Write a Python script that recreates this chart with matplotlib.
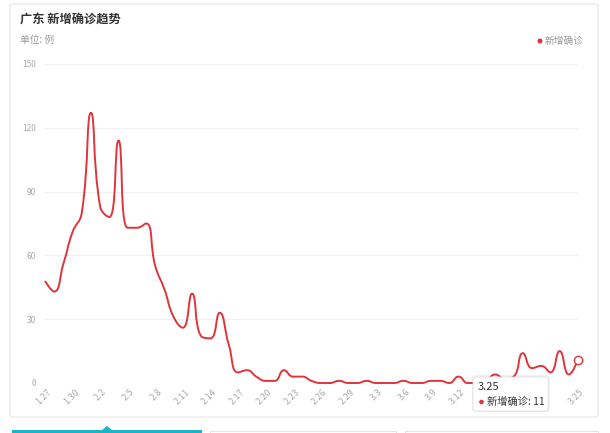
import numpy as np
import matplotlib.pyplot as plt
from matplotlib.path import Path
from matplotlib.patches import PathPatch, FancyBboxPatch, Rectangle, Polygon, Ellipse
from matplotlib.transforms import ScaledTranslation

plt.rcParams['font.family'] = ['Noto Sans CJK SC', 'DejaVu Sans']

dates = ['1.27', '1.28', '1.29', '1.30', '1.31',
         '2.1', '2.2', '2.3', '2.4', '2.5', '2.6', '2.7', '2.8', '2.9', '2.10',
         '2.11', '2.12', '2.13', '2.14', '2.15', '2.16', '2.17', '2.18', '2.19',
         '2.20', '2.21', '2.22', '2.23', '2.24', '2.25', '2.26', '2.27', '2.28',
         '2.29',
         '3.1', '3.2', '3.3', '3.4', '3.5', '3.6', '3.7', '3.8', '3.9', '3.10',
         '3.11', '3.12', '3.13', '3.14', '3.15', '3.16', '3.17', '3.18', '3.19',
         '3.20', '3.21', '3.22', '3.23', '3.24', '3.25']
new_cases = [48, 43, 56, 71, 80, 127, 83, 78, 114, 73, 73, 75, 55, 44, 31,
             26, 42, 22, 21, 33, 18, 5, 6, 3, 1, 1, 6, 3, 3, 1, 0, 0, 1, 0,
             0, 1, 0, 0, 0, 1, 0, 0, 1, 1, 0, 3, 0, 0, 1, 4, 2, 3, 14, 7, 8, 5,
             15, 4, 11]
shown_ticks = list(range(0, 57, 3)) + [58]
y_ticks = [0, 30, 60, 90, 120, 150]

red = '#de353c'
W, H = 610, 433


def fx(x):
    return x / W


def fy(y):
    return 1 - y / H


# ECharts style smoothing (bezier with clamped control points)
def smooth_path(xs, ys, sx, sy, smooth=0.5):
    px = [x * sx for x in xs]
    py = [y * sy for y in ys]
    n = len(px)
    verts = [(px[0], py[0])]
    codes = [Path.MOVETO]
    c0x, c0y = px[0], py[0]
    for i in range(1, n):
        x, y = px[i], py[i]
        ax_, ay_ = px[i - 1], py[i - 1]
        if i == n - 1:
            c1x, c1y = x, y
            nx0, ny0 = x, y
        else:
            bx, by = px[i + 1], py[i + 1]
            vx, vy = bx - ax_, by - ay_
            lp = np.hypot(x - ax_, y - ay_)
            ln = np.hypot(bx - x, by - y)
            r = ln / (ln + lp)
            nx0 = x + vx * smooth * r
            ny0 = y + vy * smooth * r
            nx0 = max(min(nx0, max(bx, x)), min(bx, x))
            ny0 = max(min(ny0, max(by, y)), min(by, y))
            vx, vy = nx0 - x, ny0 - y
            c1x = x - vx * lp / ln
            c1y = y - vy * lp / ln
            c1x = max(min(c1x, max(ax_, x)), min(ax_, x))
            c1y = max(min(c1y, max(ay_, y)), min(ay_, y))
            vx, vy = x - c1x, y - c1y
            nx0 = x + vx * ln / lp
            ny0 = y + vy * ln / lp
        verts += [(c0x, c0y), (c1x, c1y), (x, y)]
        codes += [Path.CURVE4] * 3
        c0x, c0y = nx0, ny0
    verts = [(vx / sx, vy / sy) for vx, vy in verts]
    return Path(verts, codes)


def dot(x, y, r, z=1):
    fig.patches.append(Ellipse((fx(x), fy(y)), 2 * r / W, 2 * r / H,
                               transform=fig.transFigure, fc=red, ec='none', zorder=z))


fig = plt.figure(figsize=(6.1, 4.33), dpi=100)

# card
card = FancyBboxPatch((fx(10), fy(417)), 588 / W, 413 / H,
                      boxstyle='round,pad=0,rounding_size=0.006',
                      transform=fig.transFigure, fc='white', ec='#e6e6e6', lw=0.8,
                      zorder=-5)
fig.patches.append(card)

# bottom tabs
fig.patches.append(Rectangle((fx(12), 0), 190 / W, 3 / H, transform=fig.transFigure,
                             fc='#1bb5c7', ec='none', zorder=-4))
fig.patches.append(Polygon([[fx(102), fy(430)], [fx(107), fy(426)], [fx(112), fy(430)]],
                           closed=True, transform=fig.transFigure, fc='#1bb5c7',
                           ec='none', zorder=-4))
for x0, x1 in [(210, 396), (405, 598)]:
    fig.patches.append(Rectangle((fx(x0), fy(440)), (x1 - x0) / W, 9 / H,
                                 transform=fig.transFigure, fc='white', ec='#e3e3e3',
                                 lw=0.8, zorder=-4))

fig.text(fx(20), fy(20), '广东 新增确诊趋势', fontsize=8.8, fontweight='bold',
         color='#333333', va='center')
fig.text(fx(20), fy(40), '单位: 例', fontsize=7, color='#999999', va='center')
fig.text(fx(545), fy(41), '新增确诊', fontsize=7, color='#999999', va='center')
dot(540, 41, 2.5)

ax = fig.add_axes([fx(45), fy(383), 533 / W, 319 / H])
ax.patch.set_alpha(0)
ax.set_xlim(0, len(dates) - 1)
ax.set_ylim(0, 150)
for s in ax.spines.values():
    s.set_visible(False)

ax.set_yticks(y_ticks)
ax.set_yticklabels([str(v) for v in y_ticks])
ax.tick_params(axis='y', length=0, pad=6.5, labelsize=6, labelcolor='#aaaaaa')
ax.yaxis.grid(True, color='#f1f1f1', lw=0.8)
ax.set_axisbelow(True)

ax.set_xticks(shown_ticks)
ax.set_xticklabels([dates[i] for i in shown_ticks], rotation=45, ha='right',
                   va='center', rotation_mode='anchor')
ax.tick_params(axis='x', length=0, pad=5.5, labelsize=6.5, labelcolor='#aaaaaa')
offset = ScaledTranslation(5 / 100, 0, fig.dpi_scale_trans)
for lab in ax.get_xticklabels():
    lab.set_transform(lab.get_transform() + offset)

xs = list(range(len(new_cases)))
path = smooth_path(xs, new_cases, 9.19, 2.127)
ax.add_patch(PathPatch(path, fc='none', ec=red, lw=1.4, clip_on=False, zorder=3))

# hover state on last point
last = len(new_cases) - 1
ax.axvline(last, color='#cccccc', lw=0.8, ls=(0, (2, 2)), zorder=2)
ax.plot(last, new_cases[last], 'o', ms=6, mfc='white', mec=red, mew=1,
        clip_on=False, zorder=4)

# tooltip
shadow = FancyBboxPatch((fx(472), fy(412)), 78 / W, 37 / H,
                        boxstyle='round,pad=0,rounding_size=0.006',
                        transform=fig.transFigure, fc='#000000', alpha=0.06,
                        ec='none', zorder=9)
tip = FancyBboxPatch((fx(473), fy(411)), 75 / W, 34 / H,
                     boxstyle='round,pad=0,rounding_size=0.006',
                     transform=fig.transFigure, fc='white', ec='#e0e0e0',
                     lw=0.6, zorder=10)
fig.patches.append(shadow)
fig.patches.append(tip)
fig.text(fx(478), fy(387), dates[last], fontsize=8, color='#333333',
         va='center', zorder=11)
dot(481.5, 402, 2.3, z=11)
fig.text(fx(487), fy(402), '新增确诊: ' + str(new_cases[last]), fontsize=7.4,
         color='#333333', va='center', zorder=11)

fig.savefig('out.png', dpi=100, facecolor='white')
